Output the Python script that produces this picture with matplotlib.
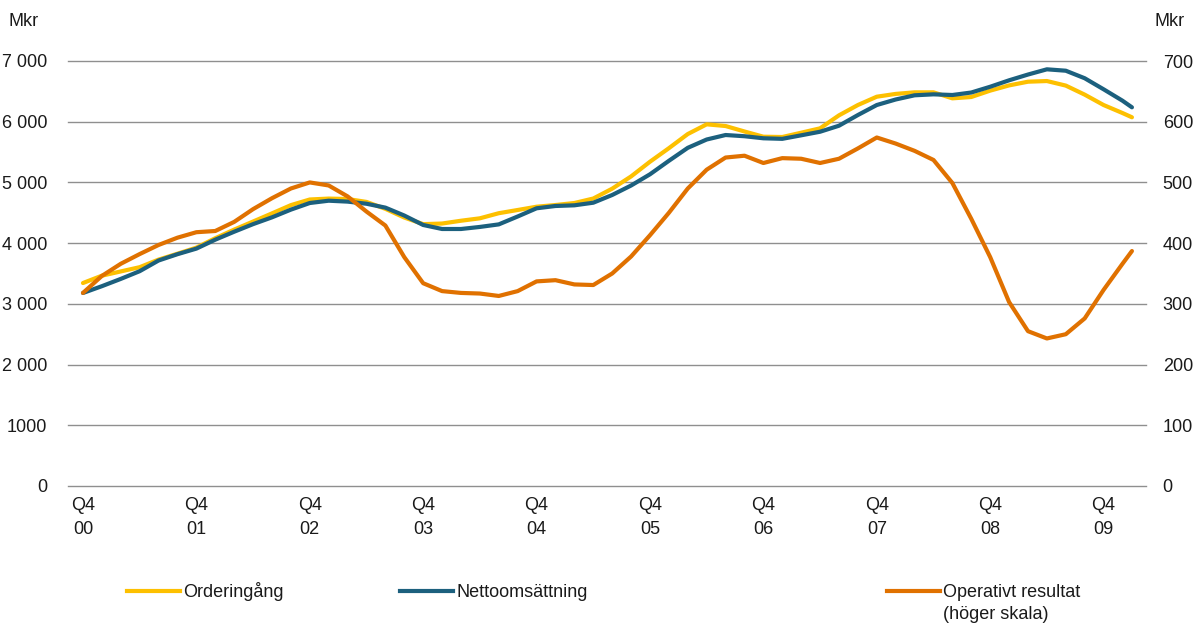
import numpy as np
import matplotlib
matplotlib.use("Agg")
import matplotlib.pyplot as plt
from matplotlib.lines import Line2D

plt.rcParams["font.family"] = ["Liberation Sans", "DejaVu Sans"]

# Tid i år från Q4 2000, varannan månad, sista punkt mars 2010
t = np.append(np.arange(0, 55 + 1) / 6, 9.25)

orderingang = [3343, 3464, 3534, 3604, 3729, 3826, 3926, 4081, 4223, 4356,
               4490, 4626, 4719, 4734, 4727, 4679, 4565, 4422, 4313, 4323,
               4369, 4409, 4493, 4546, 4600, 4628, 4661, 4735, 4897, 5099,
               5341, 5564, 5797, 5957, 5929, 5839, 5753, 5748, 5819, 5891,
               6105, 6275, 6412, 6458, 6484, 6484, 6385, 6407, 6512, 6598,
               6659, 6670, 6595, 6446, 6275, 6143, 6073]

nettoomsattning = [3179, 3291, 3411, 3538, 3714, 3818, 3910, 4057, 4188, 4313,
                   4425, 4552, 4661, 4699, 4684, 4649, 4585, 4455, 4299, 4233,
                   4233, 4267, 4309, 4439, 4574, 4612, 4623, 4666, 4793, 4949,
                   5134, 5356, 5570, 5707, 5781, 5761, 5727, 5718, 5776, 5835,
                   5934, 6110, 6275, 6366, 6435, 6451, 6440, 6481, 6576, 6682,
                   6777, 6863, 6840, 6716, 6534, 6346, 6237]

operativt = [318, 346, 366, 382, 397, 409, 418, 420, 435, 456,
             474, 490, 500, 495, 477, 452, 429, 377, 334, 321,
             318, 317, 313, 321, 337, 339, 332, 331, 350, 378,
             413, 450, 490, 521, 541, 544, 532, 540, 539, 532,
             539, 556, 574, 564, 552, 537, 499, 440, 377, 303,
             255, 243, 250, 276, 323, 366, 387]

xtick_labels = [f"Q4\n{y:02d}" for y in range(0, 10)]
left_ticks = [0, 1000, 2000, 3000, 4000, 5000, 6000, 7000]
left_labels = ["0", "1000", "2 000", "3 000", "4 000", "5 000", "6 000", "7 000"]
right_ticks = [0, 100, 200, 300, 400, 500, 600, 700]

YELLOW = "#FDC000"
BLUE = "#1C607E"
ORANGE = "#E07100"
GRID = "#8f8f8f"
TXT = "#1a1a1a"
FS = 13

fig = plt.figure(figsize=(11.93, 6.23), dpi=100)
ax = fig.add_axes([68 / 1193, 1 - 486 / 623, (1146 - 68) / 1193, (486 - 61) / 623])
ax2 = ax.twinx()

ax.plot(t, orderingang, color=YELLOW, lw=3, solid_capstyle="round", zorder=3)
ax.plot(t, nettoomsattning, color=BLUE, lw=3, solid_capstyle="round", zorder=4)
ax2.plot(t, operativt, color=ORANGE, lw=3, solid_capstyle="round", zorder=5)

ax.set_xlim(-0.132, 9.374)
ax.set_ylim(0, 7000)
ax2.set_ylim(0, 700)

ax.set_yticks(left_ticks)
ax.set_yticklabels(left_labels)
ax2.set_yticks(right_ticks)
ax.set_xticks(range(10))
ax.set_xticklabels(xtick_labels, linespacing=1.55)

ax.grid(axis="y", color=GRID, lw=1)
for gl in ax.get_ygridlines():
    gl.set_clip_on(False)
ax.set_axisbelow(True)
for a in (ax, ax2):
    for s in a.spines.values():
        s.set_visible(False)
    a.tick_params(length=0, labelsize=FS, labelcolor=TXT)
ax.tick_params(axis="y", pad=15)
ax2.tick_params(axis="y", pad=12)
ax.tick_params(axis="x", pad=8)

fig.text(9 / 1193, 1 - 21 / 623, "Mkr", fontsize=FS, color=TXT, va="center")
fig.text(1155 / 1193, 1 - 21 / 623, "Mkr", fontsize=FS, color=TXT, va="center")

# Förklaring under diagrammet
legend_items = [(127, YELLOW, "Orderingång"),
                (400, BLUE, "Nettoomsättning"),
                (887, ORANGE, "Operativt resultat\n(höger skala)")]
ly = 1 - 591 / 623
for x0, col, lab in legend_items:
    fig.add_artist(Line2D([x0 / 1193, (x0 + 53) / 1193], [ly, ly], color=col, lw=3,
                          transform=fig.transFigure))
    lines = lab.split("\n")
    for i, ln in enumerate(lines):
        fig.text((x0 + 56) / 1193, 1 - (597 + 22 * i) / 623, ln, fontsize=FS,
                 color=TXT, va="baseline", ha="left")

fig.savefig("out.png", dpi=100, facecolor="white")
